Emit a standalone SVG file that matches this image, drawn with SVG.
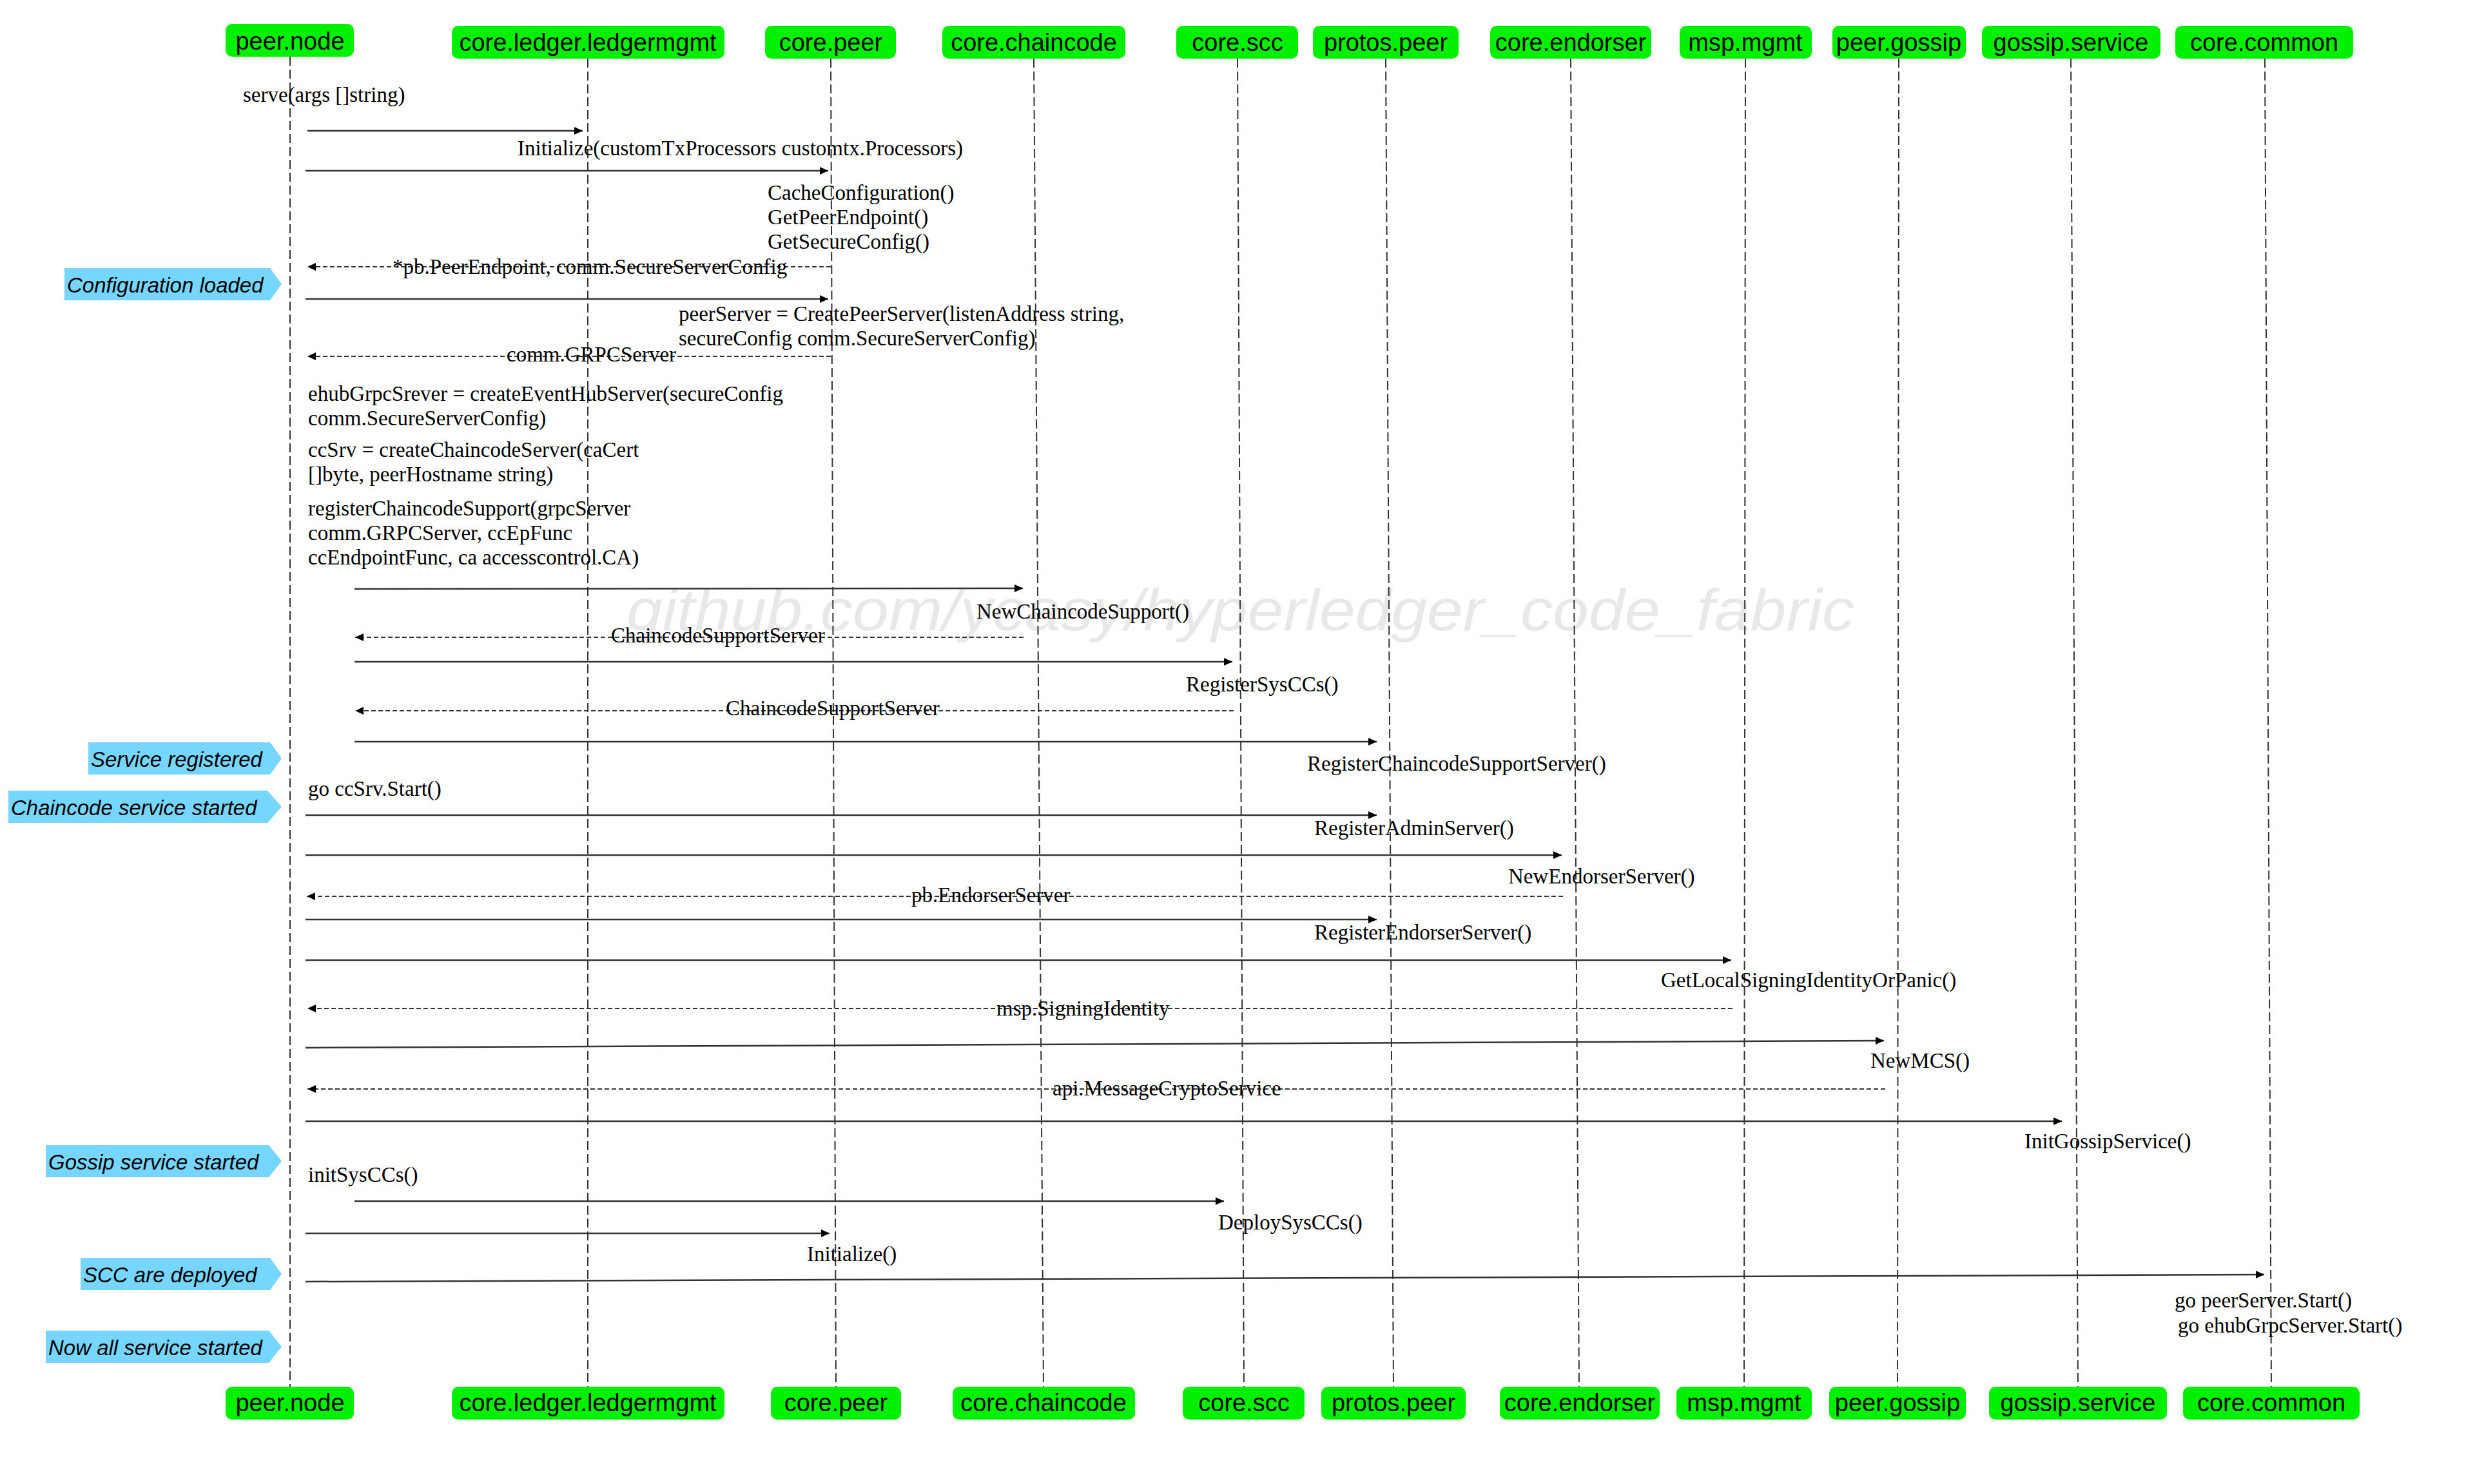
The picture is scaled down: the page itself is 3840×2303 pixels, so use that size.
<svg xmlns="http://www.w3.org/2000/svg" width="3840" height="2303" viewBox="0 0 3840 2303">
<style>
.box{fill:#00f000}
.nt{font-family:"Liberation Sans",Arial,sans-serif;font-size:38px;fill:#000;text-anchor:middle}
.life{stroke:#333;stroke-width:2;stroke-dasharray:14 6;fill:none}
.msg{stroke:#333;stroke-width:2.5;fill:none}
.ret{stroke:#333;stroke-width:2;stroke-dasharray:7 4;fill:none}
.lbl{font-family:"Liberation Serif","Times New Roman",serif;font-size:33px;fill:#000}
.note{fill:#76d6ff}
.ntx{font-family:"Liberation Sans",Arial,sans-serif;font-size:33px;font-style:italic;fill:#000}
.wm{font-family:"Liberation Sans",Arial,sans-serif;font-size:90px;font-style:italic;fill:#e8e8e8}
</style>
<defs>
<marker id="ah" markerUnits="userSpaceOnUse" markerWidth="14" markerHeight="12" refX="13" refY="6" orient="auto">
<path d="M0,0 L13,6 L0,12 z" fill="#000"/>
</marker>
</defs>
<rect width="3840" height="2303" fill="#fff"/>
<text class="wm" x="972" y="978" textLength="1905" lengthAdjust="spacingAndGlyphs">github.com/ycasy/hyperledger_code_fabric</text>

<g id="lifelines">
<line class="life" x1="450" y1="88" x2="450" y2="2152"/>
<line class="life" x1="912" y1="91" x2="912" y2="2152"/>
<line class="life" x1="1289" y1="91" x2="1297" y2="2152"/>
<line class="life" x1="1604" y1="91" x2="1619" y2="2152"/>
<line class="life" x1="1920" y1="91" x2="1930" y2="2152"/>
<line class="life" x1="2150" y1="91" x2="2162" y2="2152"/>
<line class="life" x1="2437" y1="91" x2="2450" y2="2152"/>
<line class="life" x1="2708" y1="91" x2="2706" y2="2152"/>
<line class="life" x1="2946" y1="91" x2="2944" y2="2152"/>
<line class="life" x1="3213" y1="91" x2="3224" y2="2152"/>
<line class="life" x1="3514" y1="91" x2="3524" y2="2152"/>
</g>

<g id="peer.node">
<rect class="box" x="350" y="37" width="199" height="51" rx="10"/>
<text class="nt" x="450" y="77">peer.node</text>
<rect class="box" x="350" y="2152" width="199" height="51" rx="10"/>
<text class="nt" x="450" y="2190">peer.node</text>
</g>
<g id="core.ledger.ledgermgmt">
<rect class="box" x="701" y="40" width="423" height="51" rx="10"/>
<text class="nt" x="912" y="79">core.ledger.ledgermgmt</text>
<rect class="box" x="701" y="2152" width="423" height="51" rx="10"/>
<text class="nt" x="912" y="2190">core.ledger.ledgermgmt</text>
</g>
<g id="core.peer">
<rect class="box" x="1187" y="40" width="203" height="51" rx="10"/>
<text class="nt" x="1289" y="79">core.peer</text>
<rect class="box" x="1196" y="2152" width="202" height="51" rx="10"/>
<text class="nt" x="1297" y="2190">core.peer</text>
</g>
<g id="core.chaincode">
<rect class="box" x="1462" y="40" width="284" height="51" rx="10"/>
<text class="nt" x="1604" y="79">core.chaincode</text>
<rect class="box" x="1478" y="2152" width="283" height="51" rx="10"/>
<text class="nt" x="1619" y="2190">core.chaincode</text>
</g>
<g id="core.scc">
<rect class="box" x="1825" y="40" width="189" height="51" rx="10"/>
<text class="nt" x="1920" y="79">core.scc</text>
<rect class="box" x="1835" y="2152" width="189" height="51" rx="10"/>
<text class="nt" x="1930" y="2190">core.scc</text>
</g>
<g id="protos.peer">
<rect class="box" x="2037" y="40" width="226" height="51" rx="10"/>
<text class="nt" x="2150" y="79">protos.peer</text>
<rect class="box" x="2050" y="2152" width="224" height="51" rx="10"/>
<text class="nt" x="2162" y="2190">protos.peer</text>
</g>
<g id="core.endorser">
<rect class="box" x="2312" y="40" width="250" height="51" rx="10"/>
<text class="nt" x="2437" y="79">core.endorser</text>
<rect class="box" x="2327" y="2152" width="248" height="51" rx="10"/>
<text class="nt" x="2451" y="2190">core.endorser</text>
</g>
<g id="msp.mgmt">
<rect class="box" x="2606" y="40" width="205" height="51" rx="10"/>
<text class="nt" x="2708" y="79">msp.mgmt</text>
<rect class="box" x="2601" y="2152" width="210" height="51" rx="10"/>
<text class="nt" x="2706" y="2190">msp.mgmt</text>
</g>
<g id="peer.gossip">
<rect class="box" x="2843" y="40" width="207" height="51" rx="10"/>
<text class="nt" x="2946" y="79">peer.gossip</text>
<rect class="box" x="2838" y="2152" width="212" height="51" rx="10"/>
<text class="nt" x="2944" y="2190">peer.gossip</text>
</g>
<g id="gossip.service">
<rect class="box" x="3075" y="40" width="277" height="51" rx="10"/>
<text class="nt" x="3213" y="79">gossip.service</text>
<rect class="box" x="3086" y="2152" width="276" height="51" rx="10"/>
<text class="nt" x="3224" y="2190">gossip.service</text>
</g>
<g id="core.common">
<rect class="box" x="3375" y="40" width="276" height="51" rx="10"/>
<text class="nt" x="3513" y="79">core.common</text>
<rect class="box" x="3387" y="2152" width="274" height="51" rx="10"/>
<text class="nt" x="3524" y="2190">core.common</text>
</g>

<g id="notes">
<polygon class="note" points="100,416 419,416 437,441 419,466 100,466"/>
<text class="ntx" x="104" y="454">Configuration loaded</text>
<polygon class="note" points="137,1152 419,1152 437,1177 419,1202 137,1202"/>
<text class="ntx" x="141" y="1190">Service registered</text>
<polygon class="note" points="13,1227 415,1227 437,1252 415,1277 13,1277"/>
<text class="ntx" x="17" y="1265">Chaincode service started</text>
<polygon class="note" points="71,1777 417,1777 437,1802 417,1827 71,1827"/>
<text class="ntx" x="75" y="1815">Gossip service started</text>
<polygon class="note" points="125,1952 419,1952 437,1977 419,2002 125,2002"/>
<text class="ntx" x="129" y="1990">SCC are deployed</text>
<polygon class="note" points="71,2065 417,2065 437,2090 417,2115 71,2115"/>
<text class="ntx" x="75" y="2103">Now all service started</text>
</g>

<g id="connectors">
<line class="msg" x1="477" y1="203" x2="904" y2="203" marker-end="url(#ah)"/>
<line class="msg" x1="474" y1="265" x2="1285" y2="265" marker-end="url(#ah)"/>
<line class="ret" x1="1289" y1="414" x2="477" y2="414" marker-end="url(#ah)"/>
<line class="msg" x1="474" y1="464" x2="1285" y2="464" marker-end="url(#ah)"/>
<line class="ret" x1="1289" y1="553" x2="477" y2="553" marker-end="url(#ah)"/>
<line class="msg" x1="550" y1="914" x2="1587" y2="913" marker-end="url(#ah)"/>
<line class="ret" x1="1588" y1="989" x2="551" y2="989" marker-end="url(#ah)"/>
<line class="msg" x1="550" y1="1027" x2="1912" y2="1027" marker-end="url(#ah)"/>
<line class="ret" x1="1914" y1="1103" x2="551" y2="1103" marker-end="url(#ah)"/>
<line class="msg" x1="550" y1="1151" x2="2136" y2="1151" marker-end="url(#ah)"/>
<line class="msg" x1="474" y1="1265" x2="2136" y2="1265" marker-end="url(#ah)"/>
<line class="msg" x1="474" y1="1327" x2="2423" y2="1327" marker-end="url(#ah)"/>
<line class="ret" x1="2425" y1="1391" x2="476" y2="1391" marker-end="url(#ah)"/>
<line class="msg" x1="474" y1="1427" x2="2136" y2="1427" marker-end="url(#ah)"/>
<line class="msg" x1="474" y1="1490" x2="2686" y2="1490" marker-end="url(#ah)"/>
<line class="ret" x1="2688" y1="1565" x2="477" y2="1565" marker-end="url(#ah)"/>
<line class="msg" x1="474" y1="1626" x2="2923" y2="1615" marker-end="url(#ah)"/>
<line class="ret" x1="2925" y1="1690" x2="477" y2="1690" marker-end="url(#ah)"/>
<line class="msg" x1="474" y1="1740" x2="3199" y2="1740" marker-end="url(#ah)"/>
<line class="msg" x1="550" y1="1864" x2="1899" y2="1864" marker-end="url(#ah)"/>
<line class="msg" x1="474" y1="1914" x2="1287" y2="1914" marker-end="url(#ah)"/>
<line class="msg" x1="474" y1="1989" x2="3513" y2="1978" marker-end="url(#ah)"/>
</g>

<g id="labels">
<text class="lbl" x="377" y="158">serve(args []string)</text>
<text class="lbl" x="803" y="241">Initialize(customTxProcessors customtx.Processors)</text>
<text class="lbl" x="1191" y="310">CacheConfiguration()</text>
<text class="lbl" x="1191" y="348">GetPeerEndpoint()</text>
<text class="lbl" x="1191" y="386">GetSecureConfig()</text>
<text class="lbl" x="609" y="425">*pb.PeerEndpoint, comm.SecureServerConfig</text>
<text class="lbl" x="1053" y="498">peerServer = CreatePeerServer(listenAddress string,</text>
<text class="lbl" x="1053" y="536">secureConfig comm.SecureServerConfig)</text>
<text class="lbl" x="786" y="561">comm.GRPCServer</text>
<text class="lbl" x="478" y="622">ehubGrpcSrever = createEventHubServer(secureConfig</text>
<text class="lbl" x="478" y="660">comm.SecureServerConfig)</text>
<text class="lbl" x="478" y="709">ccSrv = createChaincodeServer(caCert</text>
<text class="lbl" x="478" y="747">[]byte, peerHostname string)</text>
<text class="lbl" x="478" y="800">registerChaincodeSupport(grpcServer</text>
<text class="lbl" x="478" y="838">comm.GRPCServer, ccEpFunc</text>
<text class="lbl" x="478" y="876">ccEndpointFunc, ca accesscontrol.CA)</text>
<text class="lbl" x="1515" y="960">NewChaincodeSupport()</text>
<text class="lbl" x="948" y="997">ChaincodeSupportServer</text>
<text class="lbl" x="1840" y="1073">RegisterSysCCs()</text>
<text class="lbl" x="1126" y="1110">ChaincodeSupportServer</text>
<text class="lbl" x="2028" y="1196">RegisterChaincodeSupportServer()</text>
<text class="lbl" x="478" y="1235">go ccSrv.Start()</text>
<text class="lbl" x="2039" y="1296">RegisterAdminServer()</text>
<text class="lbl" x="2340" y="1371">NewEndorserServer()</text>
<text class="lbl" x="1414" y="1400">pb.EndorserServer</text>
<text class="lbl" x="2039" y="1458">RegisterEndorserServer()</text>
<text class="lbl" x="2577" y="1532">GetLocalSigningIdentityOrPanic()</text>
<text class="lbl" x="1546" y="1576">msp.SigningIdentity</text>
<text class="lbl" x="2902" y="1657">NewMCS()</text>
<text class="lbl" x="1633" y="1700">api.MessageCryptoService</text>
<text class="lbl" x="3141" y="1782">InitGossipService()</text>
<text class="lbl" x="478" y="1834">initSysCCs()</text>
<text class="lbl" x="1890" y="1908">DeploySysCCs()</text>
<text class="lbl" x="1252" y="1957">Initialize()</text>
<text class="lbl" x="3374" y="2029">go peerServer.Start()</text>
<text class="lbl" x="3379" y="2068">go ehubGrpcServer.Start()</text>
</g>
</svg>
